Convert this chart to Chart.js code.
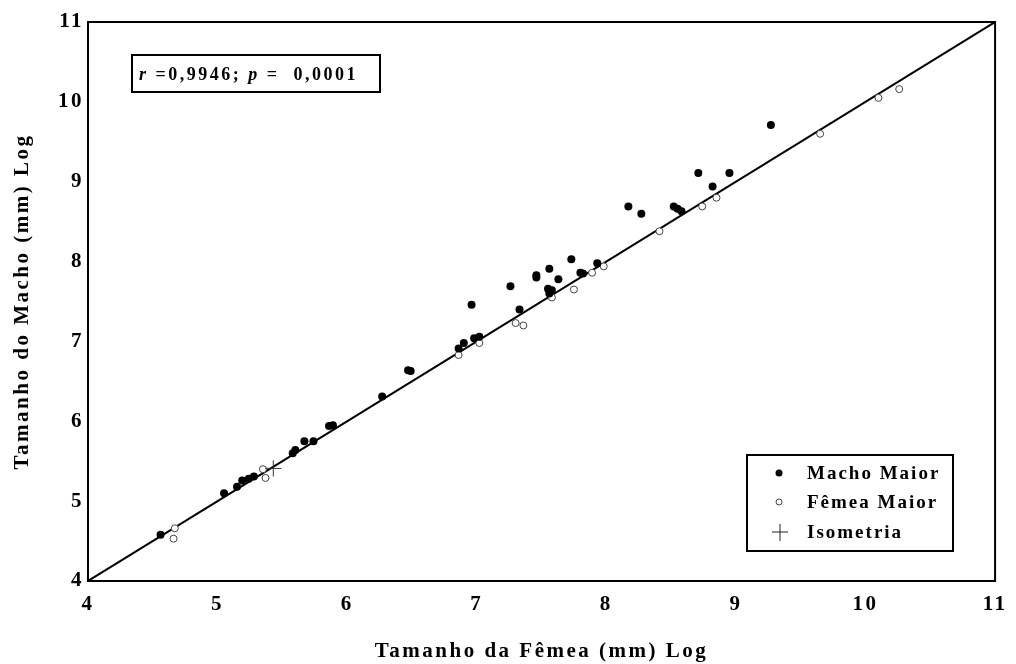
<!DOCTYPE html>
<html>
<head>
<meta charset="utf-8">
<script src="https://cdn.jsdelivr.net/npm/chart.js@4"></script>
<style>
  html, body { margin: 0; padding: 0; background: #fff; }
  #wrap { position: relative; width: 1016px; height: 664px; }
</style>
</head>
<body>
<div id="wrap"><canvas id="grafico" width="1016" height="664"></canvas></div>
<script>
// Macho Maior (pontos cheios)
const machoX = [4.56, 5.05, 5.15, 5.19, 5.24, 5.28, 5.58, 5.60, 5.67, 5.74, 5.86, 5.89, 6.27, 6.47, 6.49, 6.86, 6.90, 6.96, 6.98, 7.02, 7.26, 7.33, 7.46, 7.46, 7.56, 7.55, 7.58, 7.56, 7.63, 7.73, 7.80, 7.82, 7.93, 8.17, 8.27, 8.52, 8.55, 8.58, 8.71, 8.82, 8.95, 9.27];
const machoY = [4.58, 5.10, 5.18, 5.26, 5.28, 5.31, 5.60, 5.64, 5.75, 5.75, 5.94, 5.95, 6.31, 6.64, 6.63, 6.91, 6.98, 7.46, 7.04, 7.06, 7.69, 7.40, 7.83, 7.80, 7.91, 7.66, 7.64, 7.60, 7.78, 8.03, 7.86, 7.85, 7.98, 8.69, 8.60, 8.69, 8.66, 8.63, 9.11, 8.94, 9.11, 9.71];

// Fêmea Maior (círculos vazios)
const femeaX = [4.67, 4.66, 5.37, 5.35, 6.86, 7.02, 7.30, 7.36, 7.58, 7.75, 7.89, 7.98, 8.41, 8.74, 8.85, 9.65, 10.10, 10.26];
const femeaY = [4.66, 4.53, 5.29, 5.40, 6.83, 6.98, 7.23, 7.20, 7.55, 7.65, 7.86, 7.94, 8.38, 8.69, 8.80, 9.60, 10.05, 10.16];

// Isometria
const isoX = [5.43];
const isoY = [5.41];

// Linha de isometria (y = x)
const linhaX = [4, 11];
const linhaY = [4, 11];

const eixoMin = 4;
const eixoMax = 11;

const pares = (xs, ys) => xs.map((x, i) => ({ x: x, y: ys[i] }));

const fonteSerif = '"Liberation Serif", "Times New Roman", serif';

// texto um pouco espaçado, como no original
const espacamento = {
    id: 'espacamento',
    beforeDraw(chart) {
        chart.ctx.letterSpacing = '2.5px';
    }
};

// caixa, texto r/p e legenda
const extras = {
    id: 'extras',
    afterDraw(chart) {
        const ctx = chart.ctx;
        const a = chart.chartArea;
        ctx.save();
        ctx.strokeStyle = '#000';
        ctx.lineWidth = 2;
        ctx.strokeRect(a.left, a.top, a.right - a.left, a.bottom - a.top);

        // caixa de correlação
        ctx.strokeRect(132, 55, 248, 37);
        ctx.fillStyle = '#000';
        ctx.textBaseline = 'alphabetic';
        ctx.textAlign = 'left';
        ctx.letterSpacing = '2.5px';
        let x = 139;
        const yb = 80;
        const partes = [
            ['italic bold', 'r'],
            ['bold', ' =0,9946; '],
            ['italic bold', 'p'],
            ['bold', ' =  0,0001']
        ];
        partes.forEach(p => {
            ctx.font = p[0] + ' 18px ' + fonteSerif;
            ctx.fillText(p[1], x, yb);
            x += ctx.measureText(p[1]).width;
        });

        // legenda
        ctx.strokeRect(747, 455, 206, 96);
        ctx.letterSpacing = '2px';
        ctx.font = 'bold 19px ' + fonteSerif;
        ctx.textBaseline = 'middle';
        ctx.fillText('Macho Maior', 807, 474);
        ctx.fillText('Fêmea Maior', 807, 503);
        ctx.fillText('Isometria', 807, 533);

        ctx.beginPath();
        ctx.arc(779, 473, 3.5, 0, Math.PI * 2);
        ctx.fill();
        ctx.beginPath();
        ctx.lineWidth = 1;
        ctx.strokeStyle = '#444';
        ctx.arc(779, 502, 3, 0, Math.PI * 2);
        ctx.stroke();
        ctx.beginPath();
        ctx.strokeStyle = '#222';
        ctx.moveTo(772, 532); ctx.lineTo(788, 532);
        ctx.moveTo(780, 524); ctx.lineTo(780, 541);
        ctx.stroke();
        ctx.restore();
    }
};

const ctxGrafico = document.getElementById('grafico').getContext('2d');
new Chart(ctxGrafico, {
    type: 'scatter',
    data: {
        datasets: [
            {
                label: 'Macho Maior',
                data: pares(machoX, machoY),
                pointStyle: 'circle',
                pointRadius: 4,
                backgroundColor: '#000',
                borderColor: '#000',
                borderWidth: 0,
                order: 1
            },
            {
                label: 'Fêmea Maior',
                data: pares(femeaX, femeaY),
                pointStyle: 'circle',
                pointRadius: 3.5,
                backgroundColor: '#fff',
                borderColor: '#444',
                borderWidth: 1,
                order: 2
            },
            {
                label: 'Isometria',
                data: pares(isoX, isoY),
                pointStyle: 'cross',
                pointRadius: 8,
                borderColor: '#333',
                borderWidth: 1,
                order: 0
            },
            {
                type: 'line',
                label: 'y = x',
                data: pares(linhaX, linhaY),
                borderColor: '#000',
                borderWidth: 2,
                pointRadius: 0,
                fill: false,
                order: 3
            }
        ]
    },
    options: {
        responsive: false,
        animation: false,
        layout: {
            padding: { top: 22, right: 20, left: 0, bottom: 0 }
        },
        scales: {
            x: {
                type: 'linear',
                min: eixoMin,
                max: eixoMax,
                afterFit: s => { s.height = 83; },
                grid: { display: false, drawTicks: false },
                border: { display: false },
                ticks: {
                    stepSize: 1,
                    padding: 11,
                    color: '#000',
                    font: { family: fonteSerif, size: 21, weight: 'bold' }
                },
                title: {
                    display: true,
                    text: 'Tamanho da Fêmea (mm) Log',
                    color: '#000',
                    padding: { top: 0, bottom: 0 },
                    font: { family: fonteSerif, size: 21, weight: 'bold' }
                }
            },
            y: {
                type: 'linear',
                min: eixoMin,
                max: eixoMax,
                afterFit: s => { s.width = 88; },
                grid: { display: false, drawTicks: false },
                border: { display: false },
                ticks: {
                    stepSize: 1,
                    padding: 4,
                    color: '#000',
                    font: { family: fonteSerif, size: 21, weight: 'bold' }
                },
                title: {
                    display: true,
                    text: 'Tamanho do Macho (mm) Log',
                    color: '#000',
                    padding: { top: 10, bottom: 0 },
                    font: { family: fonteSerif, size: 21, weight: 'bold' }
                }
            }
        },
        plugins: {
            legend: { display: false },
            tooltip: { enabled: false }
        }
    },
    plugins: [espacamento, extras]
});
</script>
</body>
</html>
